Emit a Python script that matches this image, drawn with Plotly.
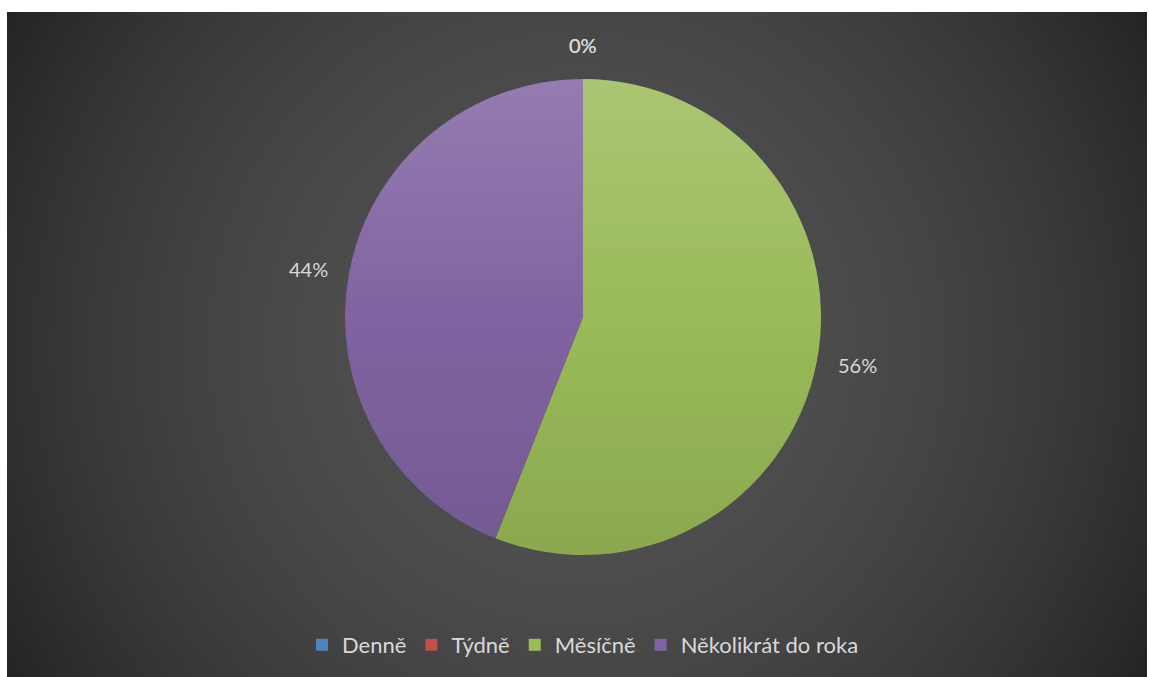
import base64
import math
import struct
import zlib

import plotly.graph_objects as go

# Survey answers: how often
categories = ["Denně", "Týdně", "Měsíčně", "Několikrát do roka"]
values = [0, 0, 56, 44]
slice_colors = ["#4f81bd", "#c0504d", "#9bbb59", "#8064a2"]

W, H = 1149, 677
# chart area (pixels) and pie geometry
AREA_X0, AREA_Y0, AREA_X1, AREA_Y1 = 7, 12, 1147, 677
PIE_CX, PIE_CY, PIE_R = 583, 317, 238
LABEL_GAP = 20
TEXT_COLOR = "#d9d9d9"
FONT = "Lato"


def png_uri(width, height, rows, color_type):
    raw = b"".join(b"\x00" + r for r in rows)

    def chunk(tag, data):
        body = struct.pack(">I", len(data)) + tag + data
        return body + struct.pack(">I", zlib.crc32(tag + data) & 0xFFFFFFFF)

    ihdr = struct.pack(">IIBBBBB", width, height, 8, color_type, 0, 0, 0)
    png = (b"\x89PNG\r\n\x1a\n" + chunk(b"IHDR", ihdr)
           + chunk(b"IDAT", zlib.compress(raw, 9)) + chunk(b"IEND", b""))
    return "data:image/png;base64," + base64.b64encode(png).decode()


def radial_background():
    step = 4
    aw, ah = AREA_X1 - AREA_X0, AREA_Y1 - AREA_Y0
    bw, bh = aw // step, ah // step
    cx, cy = AREA_X0 + aw / 2, AREA_Y0 + ah / 2
    dmax = math.hypot(aw / 2, ah / 2)
    c0, c1 = 0x52, 0x24
    rows = []
    for j in range(bh):
        py = AREA_Y0 + (j + 0.5) * step
        row = bytearray()
        for i in range(bw):
            px = AREA_X0 + (i + 0.5) * step
            f = (math.hypot(px - cx, py - cy) / dmax) ** 2
            row.append(max(0, min(255, round(c0 - (c0 - c1) * min(f, 1.0)))))
        rows.append(bytes(row))
    return png_uri(bw, bh, rows, 0)


def pie_shading():
    size = 2 * PIE_R
    rows = []
    for j in range(size):
        v = (j + 0.5) / size
        s = 1 - 2 * v
        if s > 0:
            rgb, a = 255, 0.16 * s
        else:
            rgb, a = 0, 0.10 * (-s)
        row = bytearray()
        dy = j + 0.5 - PIE_R
        for i in range(size):
            dx = i + 0.5 - PIE_R
            cov = max(0.0, min(1.0, PIE_R - math.hypot(dx, dy) + 0.5))
            row += bytes((rgb, rgb, rgb, round(255 * a * cov)))
        rows.append(bytes(row))
    return png_uri(size, size, rows, 6)


fig = go.Figure(
    go.Pie(
        labels=categories,
        values=values,
        marker=dict(colors=slice_colors, line=dict(width=0)),
        sort=False,
        direction="clockwise",
        rotation=0,
        textinfo="none",
        hoverinfo="label+percent",
        domain=dict(
            x=[(PIE_CX - PIE_R) / W, (PIE_CX + PIE_R) / W],
            y=[1 - (PIE_CY + PIE_R) / H, 1 - (PIE_CY - PIE_R) / H],
        ),
    )
)

# percentage labels placed outside each slice's mid angle
total = sum(values)
annotations = []
cum = 0
for v in values:
    mid = (cum + v / 2) / total * 2 * math.pi
    cum += v
    sx, cy_ = math.sin(mid), math.cos(mid)
    ax = PIE_CX + (PIE_R + LABEL_GAP) * sx
    ay = PIE_CY - (PIE_R + LABEL_GAP) * cy_
    xanchor = "left" if sx > 0.3 else ("right" if sx < -0.3 else "center")
    yanchor = "bottom" if cy_ > 0.3 else ("top" if cy_ < -0.3 else "middle")
    annotations.append(dict(
        x=ax / W, y=1 - ay / H, xref="paper", yref="paper",
        text=f"{round(100 * v / total)}%", showarrow=False,
        xanchor=xanchor, yanchor=yanchor,
        font=dict(family=FONT, size=20, color=TEXT_COLOR),
    ))

fig.update_layout(
    width=W,
    height=H,
    margin=dict(l=0, r=0, t=0, b=0),
    paper_bgcolor="white",
    plot_bgcolor="rgba(0,0,0,0)",
    annotations=annotations,
    showlegend=True,
    legend=dict(
        orientation="h",
        x=PIE_CX / W,
        xanchor="center",
        y=1 - 645 / H,
        yanchor="middle",
        bgcolor="rgba(0,0,0,0)",
        font=dict(family=FONT, size=22, color=TEXT_COLOR),
        traceorder="normal",
    ),
    images=[
        dict(
            source=radial_background(),
            xref="paper", yref="paper",
            x=AREA_X0 / W, y=1 - AREA_Y0 / H,
            sizex=(AREA_X1 - AREA_X0) / W, sizey=(AREA_Y1 - AREA_Y0) / H,
            xanchor="left", yanchor="top",
            sizing="stretch", layer="below",
        ),
        dict(
            source=pie_shading(),
            xref="paper", yref="paper",
            x=(PIE_CX - PIE_R) / W, y=1 - (PIE_CY - PIE_R) / H,
            sizex=2 * PIE_R / W, sizey=2 * PIE_R / H,
            xanchor="left", yanchor="top",
            sizing="stretch", layer="above",
        ),
    ],
)

fig.write_html("out.html")
